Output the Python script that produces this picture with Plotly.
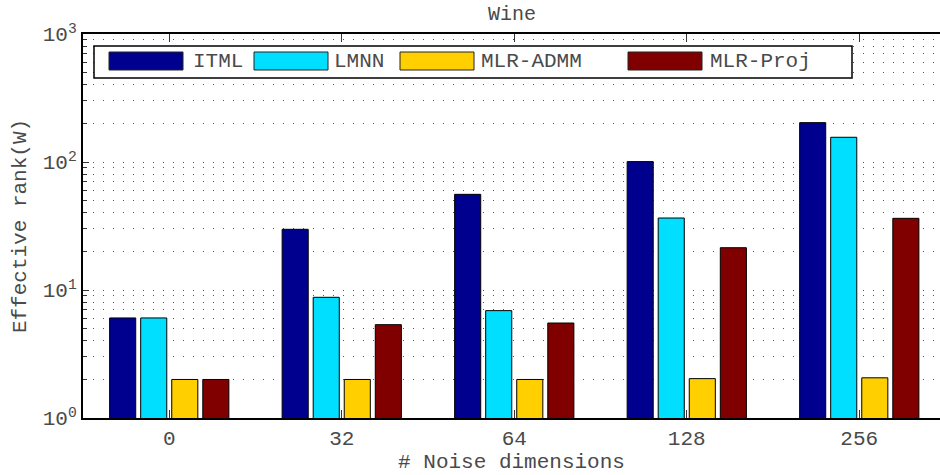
import plotly.graph_objects as go

# Effective rank of the learned metric W on the Wine data set
noise_dims = ["0", "32", "64", "128", "256"]
methods = ["ITML", "LMNN", "MLR-ADMM", "MLR-Proj"]
itml = [6.05, 29.8, 55.9, 100.7, 203.0]
lmnn = [6.05, 8.77, 6.9, 36.5, 156.0]
mlr_admm = [2.0, 2.0, 2.0, 2.03, 2.06]
mlr_proj = [2.0, 5.36, 5.52, 21.4, 36.3]
colors = ["#00008F", "#00DFFF", "#FFCF00", "#800000"]

series = [itml, lmnn, mlr_admm, mlr_proj]

FONT = "Liberation Mono, Courier New, monospace"
TEXT = "#4a4a4a"

W, H = 940, 475
L, R, T, B = 83, 0, 34, 57

fig = go.Figure()
for name, vals, col in zip(methods, series, colors):
    fig.add_trace(go.Bar(
        x=noise_dims, y=vals, name=name,
        marker=dict(color=col, line=dict(color="#000000", width=1)),
        showlegend=False,
    ))


def px_to_paper(px, py):
    return (px - L) / (W - L - R), (H - B - py) / (H - T - B)


# Legend drawn as a wide-swatch box across the top of the axes
shapes = []
annotations = []
x0, y0 = px_to_paper(94, 46)
x1, y1 = px_to_paper(852, 78)
shapes.append(dict(type="rect", xref="paper", yref="paper",
                   x0=x0, y0=y0, x1=x1, y1=y1,
                   line=dict(color="#000000", width=1.5),
                   fillcolor="#FFFFFF", layer="above"))
swatch_left = [109, 254, 400, 628]
text_left = [191, 332, 479, 708]
for name, col, sx, tx in zip(methods, colors, swatch_left, text_left):
    a0, b0 = px_to_paper(sx, 52)
    a1, b1 = px_to_paper(sx + 74, 70)
    shapes.append(dict(type="rect", xref="paper", yref="paper",
                       x0=a0, y0=b0, x1=a1, y1=b1,
                       line=dict(color="#222222", width=1),
                       fillcolor=col, layer="above"))
    ax, ay = px_to_paper(tx, 61)
    annotations.append(dict(text=name, xref="paper", yref="paper",
                            x=ax, y=ay, xanchor="left", yanchor="middle",
                            showarrow=False,
                            font=dict(family=FONT, size=21, color=TEXT)))

# Title centred over the full axis width
tx, ty = px_to_paper(512, 14)
annotations.append(dict(text="Wine", xref="paper", yref="paper",
                        x=tx, y=ty, xanchor="center", yanchor="middle",
                        showarrow=False,
                        font=dict(family=FONT, size=20, color=TEXT)))

minor_vals = [m * 10 ** e for e in range(3) for m in range(2, 10)]

fig.update_layout(
    width=W, height=H,
    margin=dict(l=L, r=R, t=T, b=B, autoexpand=False),
    paper_bgcolor="#FFFFFF", plot_bgcolor="#FFFFFF",
    barmode="group", bargap=0.28, bargroupgap=0.16,
    font=dict(family=FONT, size=21, color=TEXT),
    shapes=shapes, annotations=annotations,
    xaxis=dict(
        type="category", range=[-0.5, 4.468],
        showline=True, linecolor="#000000", linewidth=2, mirror="ticks",
        ticks="inside", ticklen=8, tickcolor="#333333", tickwidth=1,
        showgrid=False, zeroline=False,
        tickfont=dict(family=FONT, size=21, color=TEXT),
        title=dict(text="# Noise dimensions", standoff=2,
                   font=dict(family=FONT, size=21, color=TEXT)),
    ),
    yaxis=dict(
        type="log", range=[0, 3],
        tickmode="array", tickvals=[1, 10, 100, 1000],
        ticktext=["10<sup>0</sup>", "10<sup>1</sup>", "10<sup>2</sup>", "10<sup>3</sup>"],
        showline=True, linecolor="#000000", linewidth=2, mirror=False,
        ticks="inside", ticklen=6, tickcolor="#333333",
        showgrid=True, gridcolor="#555555", gridwidth=1, griddash="1px,9px",
        zeroline=False,
        tickfont=dict(family=FONT, size=21, color=TEXT),
        minor=dict(tickmode="array", tickvals=minor_vals,
                   ticks="inside", ticklen=4, tickcolor="#333333",
                   showgrid=True, gridcolor="#555555", gridwidth=1,
                   griddash="1px,9px"),
        title=dict(text="Effective rank(W)", standoff=10,
                   font=dict(family=FONT, size=21, color=TEXT)),
    ),
)

fig.write_html("out.html")
